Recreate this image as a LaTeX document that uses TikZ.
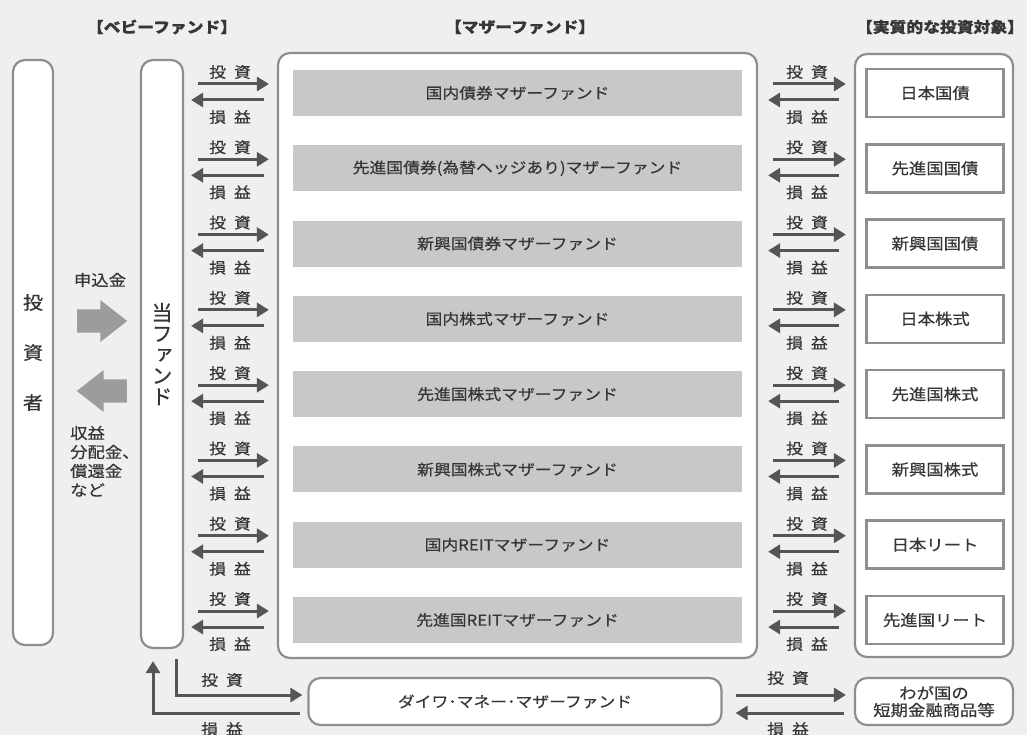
\documentclass[tikz,border=0pt]{standalone}
\usepackage{fontspec}
\setmainfont{Noto Sans CJK JP}[FakeStretch=1.12,FakeBold=0.5]
\newfontfamily\vfont{Noto Sans CJK JP}[RawFeature=+vert,FakeBold=0.5]
\usetikzlibrary{positioning}
\usetikzlibrary{arrows.meta}
\usetikzlibrary{shapes.arrows}
\definecolor{bgc}{HTML}{EFEFEF}
\definecolor{linec}{HTML}{555555}
\definecolor{boxc}{HTML}{8E8E8E}
\definecolor{barc}{HTML}{C8C8C8}
\definecolor{txtc}{HTML}{363636}
\definecolor{blockc}{HTML}{9C9C9C}

\begin{document}
\begin{tikzpicture}[x=1pt,y=-1pt,
    rbox/.style={draw=boxc,line width=2.2pt,fill=white,rounded corners=12pt,inner sep=0pt,text=txtc},
    bar/.style={fill=barc,minimum width=449pt,minimum height=46pt,inner sep=0pt,text=txtc,font=\fontsize{15}{17}\selectfont},
    tbox/.style={draw=boxc,line width=2.6pt,fill=white,minimum width=137pt,minimum height=48pt,inner sep=0pt,text=txtc,font=\fontsize{15.5}{17}\selectfont},
    flow/.style={draw=linec,line width=3pt,-{Triangle[length=12pt,width=14pt]}},
    lbl/.style={text=txtc,inner sep=0pt,font=\fontsize{15}{17}\selectfont},
    note/.style={text=txtc,inner sep=0pt,anchor=west,font=\fontsize{15.5}{17}\selectfont},
    hdr/.style={text=txtc,inner sep=0pt,font=\fontsize{15}{18}\selectfont\bfseries},
    block/.style={single arrow,fill=blockc,minimum height=50pt,minimum width=42pt,inner sep=8.5pt,single arrow tip angle=76}]
    \path[use as bounding box,fill=bgc] (0,0) rectangle (1027,735);

    \node[hdr] (HBaby) at (162,27) {【ベビーファンド】};
    \node[hdr] (HMother) at (520,27) {【マザーファンド】};
    \node[hdr] (HTarget) at (940,27) {【実質的な投資対象】};

    \node[rbox,minimum width=40pt,minimum height=585pt,align=center,font=\fontsize{18}{50}\selectfont] (Inv) at (33,352.5) {投\\資\\者};
    \node[rbox,minimum width=42pt,minimum height=588pt,align=center,font=\vfont\fontsize{21}{21}\selectfont] (Fund) at (162,354) {当\\フ\\ァ\\ン\\ド};
    \node[rbox,minimum width=479pt,minimum height=605pt] (Mother) at (517.5,355.5) {};
    \node[rbox,minimum width=158pt,minimum height=603pt] (Target) at (934,355.5) {};
    \node[rbox,minimum width=413pt,minimum height=47pt,font=\fontsize{15}{17}\selectfont] (Money) at (515,701.5) {ダイワ･マネー･マザーファンド};
    \node[rbox,minimum width=158pt,minimum height=47pt,align=center,font=\fontsize{15.5}{17}\selectfont] (Short) at (934,701.5) {わが国の\\短期金融商品等};

    % investor <-> fund
    \node[lbl,font=\fontsize{15.5}{17}\selectfont] (Sub) at (100,280) {申込金};
    \node[block,anchor=tail] (SubArrow) at (77,321) {};
    \node[block,shape border rotate=180,anchor=tail] (RetArrow) at (127,391) {};
    \node[note] (Ret1) at (70,433) {収益};
    \node[note] (Ret2) at (70,452) {分配金、};
    \node[note] (Ret3) at (70,471) {償還金};
    \node[note] (Ret4) at (70,490) {など};

    \foreach \name/\goal [count=\i from 0] in {国内債券マザーファンド/日本国債,
        先進国債券(為替ヘッジあり)マザーファンド/先進国国債,
        新興国債券マザーファンド/新興国国債,
        国内株式マザーファンド/日本株式,
        先進国株式マザーファンド/先進国株式,
        新興国株式マザーファンド/新興国株式,
        国内REITマザーファンド/日本リート,
        先進国REITマザーファンド/先進国リート}{
      \pgfmathsetmacro{\y}{93+75.29*\i}
      \node[bar] (Bar\i) at (517.5,\y) {\name};
      \node[tbox] (Tgt\i) at (935,\y) {\goal};

      \node[lbl] (InL\i) at (230,\y-21) {投\hspace{8pt}資};
      \node[lbl] (OutL\i) at (230,\y+24) {損\hspace{8pt}益};
      \node[lbl] (InR\i) at (807,\y-21) {投\hspace{8pt}資};
      \node[lbl] (OutR\i) at (807,\y+24) {損\hspace{8pt}益};

      \draw[flow,shorten <=14pt,shorten >=8pt,transform canvas={yshift=9pt}] (Fund.east |- Bar\i) -- (Mother.west |- Bar\i);
      \draw[flow,shorten <=13pt,shorten >=7pt,transform canvas={yshift=-7pt}] (Mother.west |- Bar\i) -- (Fund.east |- Bar\i);
      \draw[flow,shorten <=15pt,shorten >=8pt,transform canvas={yshift=9pt}] (Mother.east |- Bar\i) -- (Target.west |- Bar\i);
      \draw[flow,shorten <=15pt,shorten >=10pt,transform canvas={yshift=-7pt}] (Target.west |- Bar\i) -- (Mother.east |- Bar\i);
    }

    % money fund
    \node[lbl] (InM) at (222,680) {投\hspace{8pt}資};
    \node[lbl] (OutM) at (222,729) {損\hspace{8pt}益};
    \node[lbl] (InS) at (788,678) {投\hspace{8pt}資};
    \node[lbl] (OutS) at (788,729) {損\hspace{8pt}益};
    \draw[flow,shorten <=10pt,shorten >=5pt] ([xshift=14pt]Fund.south) |- ([yshift=6.5pt]Money.west);
    \draw[flow,shorten <=7pt,shorten >=12pt] ([yshift=-11.5pt]Money.west) -| ([xshift=-9pt]Fund.south);
    \draw[flow,shorten <=13pt,shorten >=8pt] ([yshift=6.5pt]Money.east) -- ([yshift=6.5pt]Short.west);
    \draw[flow,shorten <=10pt,shorten >=13pt] ([yshift=-11.5pt]Short.west) -- ([yshift=-11.5pt]Money.east);
\end{tikzpicture}
\end{document}
